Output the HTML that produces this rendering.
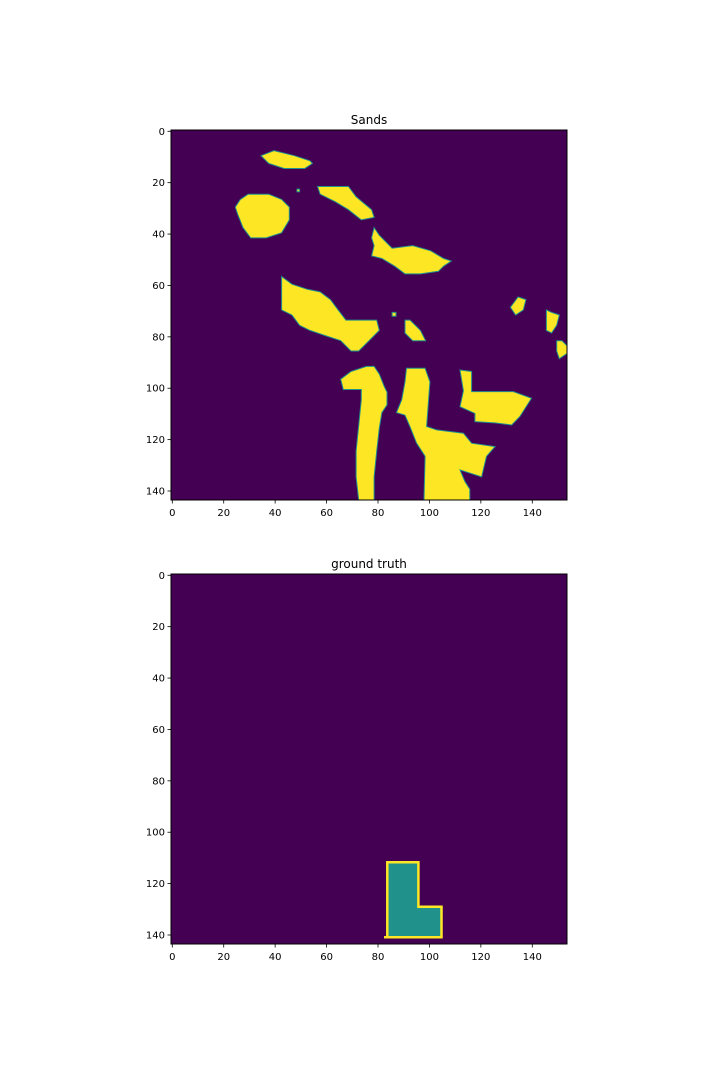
<!DOCTYPE html>
<html><head><meta charset="utf-8"><style>
body{margin:0;background:#fff}
svg{display:block;font-family:"DejaVu Sans","Liberation Sans",sans-serif}
</style></head><body>
<svg id="fig" width="720" height="1080" viewBox="0 0 720 1080" xmlns="http://www.w3.org/2000/svg"></svg>
<script>
const xTicks=[0,20,40,60,80,100,120,140];
const yTicks=[0,20,40,60,80,100,120,140];
const nCols=154, nRows=144;
const sandsBlobs=[
 [[35,10],[40,8],[48,10],[54,12],[55,13],[52,15],[44,15],[38,13]],
 [[27,27],[30,25],[38,25],[43,27],[46,30],[46,35],[43,40],[37,42],[31,42],[28,38],[26,33],[25,30]],
 [[57,22],[69,22],[72,26],[78,31],[79,34],[74,35],[69,31],[64,28],[58,25]],
 [[79,38],[81,41],[86,46],[94,45],[101,47],[106,50],[109,51],[106,53],[104,55],[97,56],[91,56],[87,53],[82,50],[78,49],[79,45],[78,42]],
 [[43,57],[47,60],[53,62],[58,63],[62,66],[65,70],[68,74],[80,74],[81,78],[78,81],[75,84],[73,86],[70,86],[66,82],[60,80],[54,78],[50,76],[47,72],[43,70]],
 [[91,74],[93,74],[97,78],[99,82],[94,82],[91,79]],
 [[135,65],[138,66],[137,70],[134,72],[132,69]],
 [[146,70],[148,71],[151,72],[150,76],[148,79],[146,78]],
 [[150,82],[152,82],[154,84],[154,87],[151,89],[150,86]],
 [[76,92],[79,92],[81,95],[83,100],[84,102],[84,107],[82,110],[81,116],[80,125],[79,135],[79,144],[73,144],[72,135],[72,125],[73,115],[74,105],[74,101],[67,101],[66,97],[70,94]],
 [[91.6,92.7],[98.8,92.7],[100.7,98],[99.4,115.4],[103.3,116.7],[113.7,118],[116.9,121.9],[126,123.2],[122.7,127],[120.8,135],[112.4,132.3],[114.3,136.8],[116.2,139.8],[116.2,144],[98.4,144],[98.8,127],[95.5,121.9],[92.9,115.4],[91,111],[87.7,110],[89.7,105],[91,98]],
 [[112.4,93.4],[116.9,94],[116.9,101.8],[133.1,101.8],[140.2,104.4],[135.7,111.5],[132.5,114.8],[126,114],[118.2,113.5],[118.2,110.3],[112.4,107.7],[113.7,101.5]],
 [[49,23],[50,23],[50,24],[49,24]],
 [[86,71],[87.5,71],[87.5,72.5],[86,72.5]]
];
const truthShape=[[84.1,112.2],[96.2,112.2],[96.2,129.5],[105.2,129.5],[105.2,141.4],[84.1,141.4]];
const NS="http://www.w3.org/2000/svg";
const svg=document.getElementById('fig');
function mk(t,a,p){const e=document.createElementNS(NS,t);for(const k in a)e.setAttribute(k,a[k]);(p||svg).appendChild(e);return e;}
const L=171,W=396,H=370;
function drawPanel(top,title,blobs,fill,stroke,sw,key){
  const g=mk('g',{});
  
  
  const sx=v=>L+v/nCols*W, sy=v=>top+v/nRows*H;
  const bg=mk('rect',{x:L,y:top,width:W,height:H,fill:'#440154'},g);
  
  
  blobs.forEach((b,i)=>{
    const p=mk('polygon',{points:b.map(q=>sx(q[0]).toFixed(1)+','+sy(q[1]).toFixed(1)).join(' '),fill:fill,stroke:stroke,'stroke-width':sw,'stroke-linejoin':'miter'},g);
    
    
  });
  const fr=mk('rect',{x:L,y:top,width:W,height:H,fill:'none',stroke:'#000','stroke-width':1},g);
  
  
  xTicks.forEach(v=>{
    const x=L+(v+0.5)/nCols*W;
    mk('line',{x1:x,x2:x,y1:top+H,y2:top+H+3.5,stroke:'#000','stroke-width':0.8},g);
    const t=mk('text',{x:x,y:top+H+16,'font-size':10,'text-anchor':'middle',fill:'#000'},g);
    t.textContent=v;
    
    
  });
  yTicks.forEach(v=>{
    const y=top+(v+0.5)/nRows*H;
    mk('line',{x1:L-3.5,x2:L,y1:y,y2:y,stroke:'#000','stroke-width':0.8},g);
    const t=mk('text',{x:L-6,y:y+3.5,'font-size':10,'text-anchor':'end',fill:'#000'},g);
    t.textContent=v;
    
    
  });
  const tt=mk('text',{x:L+W/2,y:top-6,'font-size':12,'text-anchor':'middle',fill:'#000'},g);
  tt.textContent=title;
  
  
}
drawPanel(130,'Sands',sandsBlobs,'#fde725','#21918c',1,'sands');
drawPanel(574,'ground truth',[truthShape],'#21918c','#fde725',2.5,'truth');
const dot=mk('rect',{x:384,y:936,width:2.5,height:2.5,fill:'#fde725'});


</script>
</body></html>
